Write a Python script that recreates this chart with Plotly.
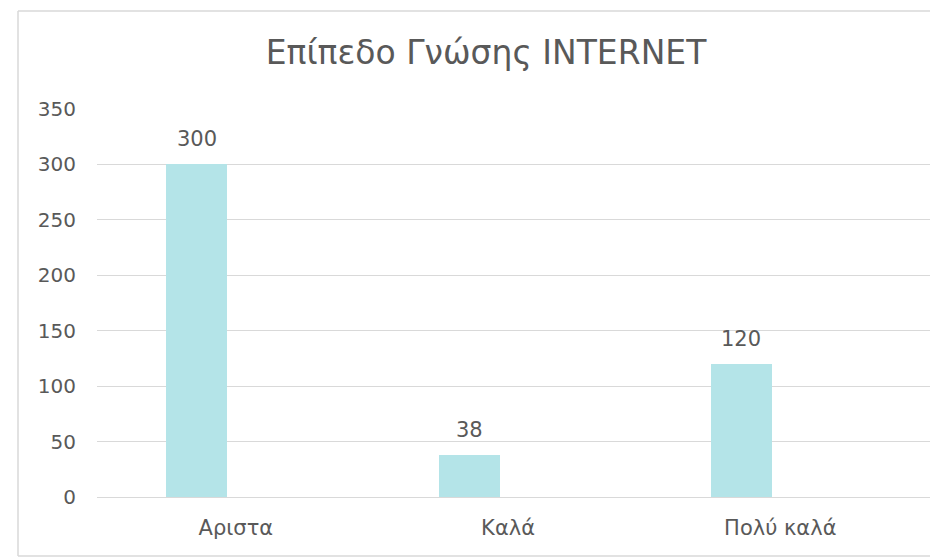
import plotly.graph_objects as go

# dati del grafico
categorie = ["Αριστα", "Καλά", "Πολύ καλά"]
valori = [300, 38, 120]
titolo = "Επίπεδο Γνώσης INTERNET"

# la pagina html ha 8px di margine sul body
W, H = 930, 549
ML, MR, MT, MB = 89, 8, 101, 60
grigio = "#595959"
griglia = "#d9d9d9"
colore_barre = "#b4e4e8"
font_fam = "DejaVu Sans, Arial, sans-serif"

bar_offset = -0.255   # barre spostate a sinistra del centro categoria
bar_width = 0.224
x_range = [-0.51, 2.55]

fig = go.Figure()

fig.add_trace(
    go.Bar(
        x=categorie,
        y=valori,
        offset=bar_offset,
        width=bar_width,
        marker=dict(color=colore_barre, line=dict(width=0)),
        showlegend=False,
        hoverinfo="x+y",
    )
)

# etichette dei valori sopra le barre
px_per_unit = (W - ML - MR) / (x_range[1] - x_range[0])
shift_x = (bar_offset + bar_width / 2) * px_per_unit
for c, v in zip(categorie, valori):
    fig.add_annotation(
        x=c, y=v, text=str(v),
        showarrow=False,
        xanchor="center", yanchor="bottom",
        xshift=shift_x, yshift=11,
        font=dict(family=font_fam, size=21, color=grigio),
    )

# bordo dell'area grafico: sinistra, sopra, sotto (a destra esce dall'immagine)
plot_w = W - ML - MR
plot_h = H - MT - MB
bx0 = (10 - ML) / plot_w
bx1 = (W + 5 - ML) / plot_w
by0 = -(548 - (H - MB)) / plot_h
by1 = 1 + (MT - 3) / plot_h
bordo = dict(color=griglia, width=1.5)
fig.add_shape(type="line", xref="paper", yref="paper", x0=bx0, x1=bx0, y0=by0, y1=by1, line=bordo)
fig.add_shape(type="line", xref="paper", yref="paper", x0=bx0, x1=bx1, y0=by1, y1=by1, line=bordo)
fig.add_shape(type="line", xref="paper", yref="paper", x0=bx0, x1=bx1, y0=by0, y1=by0, line=bordo)

fig.update_layout(
    width=W, height=H,
    margin=dict(l=ML, r=MR, t=MT, b=MB),
    paper_bgcolor="white",
    plot_bgcolor="white",
    font=dict(family=font_fam, color=grigio),
    title=dict(
        text=titolo,
        x=478 / W, xanchor="center", xref="container",
        y=1 - 44 / H, yanchor="middle", yref="container",
        font=dict(family=font_fam, size=33, color=grigio),
    ),
    xaxis=dict(
        type="category",
        range=x_range,
        showgrid=False,
        showline=False,
        ticks="",
        ticklabelstandoff=16,
        tickfont=dict(size=21, color=grigio),
        fixedrange=True,
    ),
    yaxis=dict(
        range=[0, 350],
        tickvals=[0, 50, 100, 150, 200, 250, 300, 350],
        showgrid=True,
        gridcolor=griglia,
        gridwidth=1.3,
        zeroline=True,
        zerolinecolor=griglia,
        zerolinewidth=1.3,
        showline=False,
        ticks="",
        ticklabelstandoff=20,
        tickfont=dict(size=20, color=grigio),
        fixedrange=True,
    ),
    bargap=0,
)

fig.write_html("out.html")
